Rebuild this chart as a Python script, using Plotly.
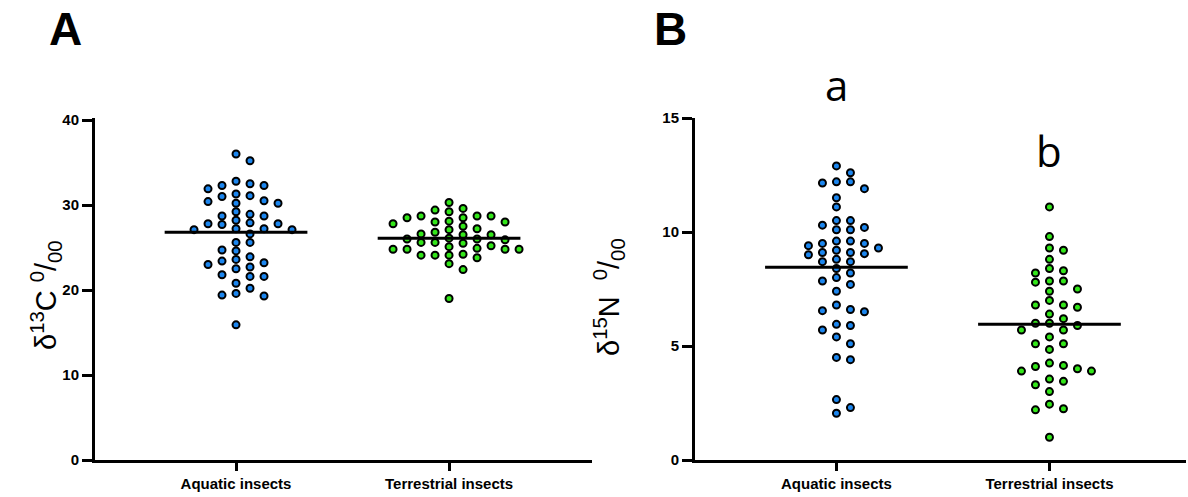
import numpy as np
import plotly.graph_objects as go

categories = ["Aquatic insects", "Terrestrial insects"]

# Panel A: delta 13C values
a_aquatic = [36.0, 35.2, 32.8, 32.3, 32.3, 32.5, 31.9, 31.3, 31.1, 31.0, 30.5, 30.4,
             30.2, 30.2, 29.2, 28.9, 28.7, 28.7, 28.2, 27.8, 27.9, 27.7, 27.8, 27.1,
             27.1, 27.2, 27.2, 26.6, 25.6, 25.6, 24.7, 24.6, 23.9, 23.6, 23.2, 23.4,
             23.0, 22.7, 22.5, 21.6, 21.6, 21.8, 20.8, 20.2, 19.6, 19.3, 19.4, 15.9]
a_terrestrial = [28.1, 28.7, 30.3, 29.4, 28.7, 29.2, 29.6, 28.7, 28.5, 28.0, 28.0, 28.5,
                 27.8, 27.2, 27.1, 27.5, 26.5, 26.6, 26.5, 26.8, 26.0, 26.0, 26.1, 25.9,
                 25.6, 25.6, 25.5, 25.2, 25.1, 24.8, 24.8, 24.9, 24.8, 24.8, 24.1, 24.1,
                 23.8, 24.1, 24.2, 23.1, 22.4, 19.0]
a_centre = [26.8, 26.1]

# Panel B: delta 15N values
b_aquatic = [12.9, 12.6, 12.2, 12.15, 12.2, 11.9, 11.5, 11.1, 10.5, 10.5, 10.3, 10.1,
             10.1, 10.2, 9.6, 9.5, 9.6, 9.5, 9.4, 9.3, 9.2, 9.0, 9.05, 9.1, 9.1, 8.7,
             8.7, 8.8, 8.4, 8.2, 8.0, 7.85, 7.7, 7.4, 6.8, 6.6, 6.5, 6.55, 5.9, 5.95,
             5.7, 5.4, 5.1, 4.5, 4.4, 2.65, 2.3, 2.05]
b_terrestrial = [11.1, 9.8, 9.2, 9.3, 8.8, 8.3, 8.2, 8.4, 7.85, 7.85, 7.8, 7.4, 7.5,
                 7.0, 6.8, 6.7, 6.8, 6.4, 6.2, 6.0, 5.9, 6.0, 5.7, 5.7, 5.4, 5.1, 5.1,
                 4.85, 4.15, 3.9, 4.0, 4.25, 3.9, 4.1, 3.55, 3.3, 3.45, 3.0, 2.25, 2.2,
                 2.45, 1.0]
b_centre = [8.45, 5.95]

letters = ["a", "b"]
y_titles = ["δ<sup>13</sup>C <sup>0</sup>/<sub>00</sub>",
            "δ<sup>15</sup>N&nbsp; <sup>0</sup>/<sub>00</sub>"]

BLUE = "#1c86ee"
GREEN = "#33e61a"


def swarm_offsets(values, px_per_unit, cat_px, step_px=7.0, min_dx=14.0, min_dy=8.0):
    """Greedy grid beeswarm: columns on a 7 px grid, dots must not share a column band."""
    vals = np.asarray(values, dtype=float)
    py = vals * px_per_unit
    order = np.argsort(-vals)
    placed = []
    offs = np.zeros(len(vals))
    cands = [0.0]
    for k in range(1, 12):
        cands += [-k * step_px, k * step_px] if k % 2 else [k * step_px, -k * step_px]
    for i in order:
        for c in cands:
            ok = True
            for (ox, oy) in placed:
                if abs(ox - c) < min_dx - 0.01 and abs(oy - py[i]) < min_dy:
                    ok = False
                    break
            if ok:
                offs[i] = c
                placed.append((c, py[i]))
                break
    return offs / cat_px


fig = go.Figure()

A_PPU, B_PPU = 8.55, 22.8
CAT_PX = 213.0

panels = [
    ("x", "y", [a_aquatic, a_terrestrial], a_centre, A_PPU),
    ("x2", "y2", [b_aquatic, b_terrestrial], b_centre, B_PPU),
]
for xa, ya, groups, centres, ppu in panels:
    for gi, (vals, col) in enumerate(zip(groups, [BLUE, GREEN])):
        offs = swarm_offsets(vals, ppu, CAT_PX)
        fig.add_trace(go.Scatter(
            x=gi + offs, y=vals, mode="markers", xaxis=xa, yaxis=ya,
            marker=dict(size=7, color=col, line=dict(color="black", width=2)),
            showlegend=False, hoverinfo="y"))
    for gi, c in enumerate(centres):
        fig.add_trace(go.Scatter(
            x=[gi - 0.335, gi + 0.335], y=[c, c], mode="lines", xaxis=xa, yaxis=ya,
            line=dict(color="black", width=3), showlegend=False, hoverinfo="skip"))

axis_common = dict(showline=True, linecolor="black", linewidth=3, ticks="outside",
                   tickcolor="black", tickwidth=3, showgrid=False, zeroline=False,
                   mirror=False, automargin=False)
tickfont_x = dict(family="Liberation Sans, Arial", size=15, color="black", weight="bold")
tickfont_y = dict(family="Liberation Sans, Arial", size=15, color="black", weight="bold")
title_font = dict(family="Liberation Sans, Arial", size=29, color="black")

ydom = [1 - 460 / 497, 1 - 118 / 497]

fig.update_layout(
    width=1188, height=497, margin=dict(l=0, r=0, t=0, b=0, autoexpand=False),
    paper_bgcolor="white", plot_bgcolor="white",
    xaxis=dict(domain=[95 / 1188, 592 / 1188], range=[-0.662, 1.671],
               tickvals=[0, 1], ticktext=categories, ticklen=8, tickfont=tickfont_x,
               anchor="y", **axis_common),
    yaxis=dict(domain=ydom, range=[0, 40 * 342 / 340], tickvals=[0, 10, 20, 30, 40],
               ticklen=10, tickfont=tickfont_y, anchor="x", **axis_common),
    xaxis2=dict(domain=[695 / 1188, 1186 / 1188], range=[-0.664, 1.641],
                tickvals=[0, 1], ticktext=categories, ticklen=8, tickfont=tickfont_x,
                anchor="y2", **axis_common),
    yaxis2=dict(domain=ydom, range=[0, 15], tickvals=[0, 5, 10, 15],
                ticklen=10, tickfont=tickfont_y, anchor="x2", **axis_common),
)

# y-axis titles
for txt, (px, py) in zip(y_titles, [(46, 295), (609, 297)]):
    fig.add_annotation(text=txt, x=px / 1188, y=1 - py / 497, xref="paper", yref="paper",
                       showarrow=False, textangle=-90, font=title_font,
                       xanchor="center", yanchor="middle")

panel_font = dict(family="Liberation Sans, Arial", size=46, color="black", weight="bold")
fig.add_annotation(text="A", x=65 / 1188, y=1 - 29 / 497, xref="paper", yref="paper",
                   showarrow=False, font=panel_font, xanchor="center", yanchor="middle")
fig.add_annotation(text="B", x=670 / 1188, y=1 - 29 / 497, xref="paper", yref="paper",
                   showarrow=False, font=panel_font, xanchor="center", yanchor="middle")

sig_font = dict(family="Open Sans, Liberation Sans", size=42, color="black")
sig_y = [1 - 84 / 497, 1 - 150 / 497]
for gi, (lab, yy) in enumerate(zip(letters, sig_y)):
    fig.add_annotation(text=lab, x=gi, y=yy, xref="x2", yref="paper", showarrow=False,
                       font=sig_font, xanchor="center", yanchor="middle")

fig.write_html("out.html", config={"displayModeBar": False},
               post_script="document.body.style.margin='0';document.body.style.overflow='hidden';")
